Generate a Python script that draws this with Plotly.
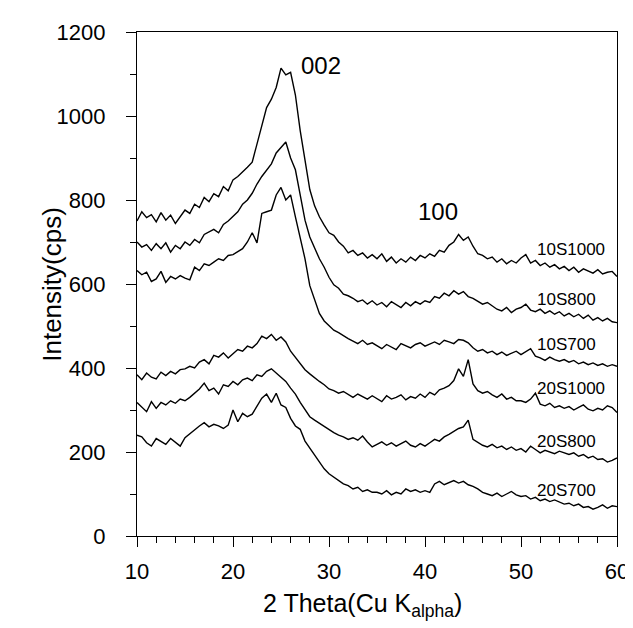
import plotly.graph_objects as go

two_theta = [10 + 0.5 * i for i in range(101)]

s10_1000 = [750, 772, 758, 765, 748, 770, 752, 764, 744, 760,
            776, 768, 790, 782, 806, 796, 815, 808, 832, 822,
            848, 856, 866, 878, 890, 935, 982, 1020, 1040, 1068,
            1114, 1098, 1104, 1050, 965, 890, 825, 786, 760, 740,
            722, 716, 700, 690, 674, 680, 668, 674, 662, 670,
            660, 672, 654, 664, 650, 660, 652, 664, 656, 668,
            662, 672, 666, 680, 676, 692, 700, 718, 704, 712,
            690, 672, 668, 660, 664, 652, 660, 648, 656, 650,
            662, 670, 650, 656, 644, 650, 640, 646, 636, 642,
            632, 640, 628, 636, 630, 626, 634, 624, 628, 630,
            618]

s10_800 = [700, 688, 694, 680, 696, 684, 698, 676, 692, 684,
           700, 692, 706, 698, 718, 724, 730, 722, 742, 750,
           760, 772, 790, 800, 816, 838, 856, 870, 886, 912,
           924, 938, 900, 872, 812, 752, 712, 686, 660, 640,
           616, 598, 590, 576, 572, 566, 558, 562, 552, 560,
           550, 556, 546, 558, 550, 544, 556, 548, 558, 552,
           560, 556, 570, 566, 578, 572, 584, 576, 582, 570,
           566, 560, 552, 556, 548, 540, 536, 544, 532, 540,
           544, 552, 538, 534, 540, 530, 536, 528, 534, 524,
           530, 522, 528, 518, 526, 514, 520, 512, 518, 510,
           508]

s10_700 = [632, 622, 628, 606, 612, 630, 604, 618, 612, 620,
           614, 610, 640, 632, 648, 644, 652, 660, 656, 668,
           670, 678, 684, 700, 722, 698, 768, 772, 776, 812,
           830, 800, 812, 760, 708, 660, 596, 562, 530, 512,
           500, 490, 484, 476, 470, 464, 458, 466, 456, 460,
           452, 446, 456, 450, 444, 458, 452, 448, 456, 460,
           452, 458, 462, 456, 466, 462, 458, 468, 466, 460,
           448, 440, 444, 436, 440, 432, 438, 430, 436, 440,
           432, 440, 446, 428, 424, 418, 426, 420, 416, 420,
           414, 418, 410, 414, 408, 412, 406, 410, 404, 408,
           404]

s20_1000 = [384, 372, 388, 378, 374, 390, 382, 392, 386, 396,
            398, 404, 400, 414, 420, 410, 430, 426, 436, 424,
            434, 444, 440, 452, 448, 458, 476, 470, 480, 466,
            474, 462, 440, 426, 410, 396, 386, 376, 368, 360,
            350, 346, 340, 344, 336, 330, 338, 332, 326, 334,
            328, 320, 334, 326, 330, 336, 324, 332, 328, 338,
            330, 342, 336, 348, 352, 358, 370, 398, 380, 420,
            362, 346, 340, 344, 336, 330, 338, 326, 330, 322,
            322, 318, 326, 340, 314, 310, 316, 306, 310, 304,
            308, 300, 306, 312, 302, 298, 304, 300, 310, 306,
            294]

s20_800 = [318, 308, 296, 320, 304, 318, 312, 322, 316, 326,
           322, 330, 340, 350, 364, 346, 352, 338, 360, 356,
           368, 360, 372, 376, 370, 384, 380, 392, 398, 388,
           380, 368, 352, 338, 318, 300, 284, 276, 268, 262,
           254, 246, 240, 236, 230, 234, 228, 238, 224, 212,
           218, 224, 216, 222, 214, 220, 226, 216, 212, 220,
           214, 222, 230, 226, 236, 242, 250, 256, 260, 276,
           230, 222, 216, 212, 218, 210, 214, 206, 212, 204,
           208, 200, 214, 206, 198, 204, 200, 196, 202, 198,
           194, 198, 190, 194, 186, 190, 182, 184, 176, 180,
           186]

s20_700 = [240, 236, 222, 214, 232, 226, 218, 232, 222, 214,
           234, 244, 252, 262, 270, 260, 266, 262, 256, 264,
           300, 272, 292, 284, 290, 310, 328, 338, 318, 340,
           312, 306, 280, 262, 254, 226, 210, 194, 176, 160,
           148, 140, 132, 124, 120, 112, 116, 106, 110, 104,
           104, 100, 108, 98, 104, 100, 112, 106, 110, 104,
           108, 104, 124, 130, 122, 128, 132, 126, 130, 122,
           118, 112, 104, 100, 96, 102, 94, 100, 106, 98,
           94, 96, 88, 92, 84, 88, 82, 86, 80, 76,
           78, 72, 76, 68, 70, 64, 68, 74, 66, 72,
           70]

sample_names = ['10S1000', '10S800', '10S700', '20S1000', '20S800', '20S700']
sample_label_y = [681, 564, 456, 351, 225, 108]
series = [s10_1000, s10_800, s10_700, s20_1000, s20_800, s20_700]

FONT = 'Liberation Sans, Arial, sans-serif'

fig = go.Figure()
for name, ys in zip(sample_names, series):
    fig.add_scatter(x=two_theta, y=ys, mode='lines', name=name,
                    line=dict(color='black', width=1.4))

for name, yl in zip(sample_names, sample_label_y):
    fig.add_annotation(x=51.5, y=yl, text=name, showarrow=False, xanchor='left',
                       font=dict(size=17, color='black', family=FONT))

fig.add_annotation(x=29.2, y=1120, text='002', showarrow=False,
                   font=dict(size=24, color='black', family=FONT))
fig.add_annotation(x=41.4, y=772, text='100', showarrow=False,
                   font=dict(size=24, color='black', family=FONT))

# axis titles placed as annotations so they sit where the original puts them
fig.add_annotation(xref='paper', yref='paper', x=0.47, y=-0.172, yanchor='bottom',
                   text='2 Theta(Cu K<sub>alpha</sub>)', showarrow=False,
                   font=dict(size=25, color='black', family=FONT))
fig.add_annotation(xref='paper', yref='paper', x=-0.213, y=0.5, textangle=-90,
                   text='Intensity(cps)', showarrow=False,
                   font=dict(size=26, color='black', family=FONT))

axis_common = dict(showgrid=False, zeroline=False, showline=True, linecolor='black',
                   linewidth=1.2, mirror=True, ticks='outside', tickcolor='black',
                   tickwidth=1.2, ticklen=10,
                   tickfont=dict(size=22, color='black', family=FONT))

fig.update_xaxes(range=[10, 60], tick0=10, dtick=10, ticklabelstandoff=5,
                 minor=dict(dtick=2, ticks='outside', ticklen=6, tickcolor='black'),
                 **axis_common)
fig.update_yaxes(range=[0, 1200], tick0=0, dtick=200, ticklabelstandoff=16,
                 minor=dict(dtick=100, ticks='outside', ticklen=6, tickcolor='black'),
                 **axis_common)

fig.update_layout(width=633, height=628, showlegend=False,
                  margin=dict(l=129, r=16, t=15, b=100),
                  plot_bgcolor='white', paper_bgcolor='white',
                  font=dict(family=FONT, color='black'))

fig.write_html("out.html")
